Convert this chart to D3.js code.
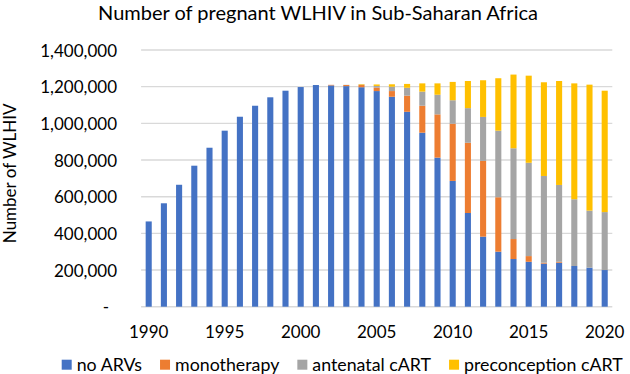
<!DOCTYPE html>
<html>
<head>
<meta charset="utf-8">
<script src="https://cdn.jsdelivr.net/npm/d3@7/dist/d3.min.js"></script>
<style>
  html, body { margin: 0; padding: 0; background: #fff; }
  svg text { font-family: Lato, "Open Sans", sans-serif; fill: #000; }
</style>
</head>
<body>
<svg id="chart" width="630" height="374"></svg>
<script>
const years = d3.range(1990, 2021);
const noARVs = [465000, 564000, 665000, 769000, 867000, 960000, 1036000, 1096000, 1142000, 1178000, 1198000,
  1209000, 1207000, 1203000, 1197000, 1176000, 1145000, 1063000, 949000, 813000, 686000,
  511000, 382000, 300000, 260000, 245000, 235000, 240000, 222000, 213000, 200000];
const monotherapy = [0, 0, 0, 0, 0, 0, 0, 0, 0, 0, 0,
  0, 3000, 6000, 12000, 19000, 31000, 88000, 147000, 236000, 312000,
  383000, 413000, 297000, 109000, 31000, 5000, 5000, 0, 0, 0];
const antenatal = [0, 0, 0, 0, 0, 0, 0, 0, 0, 0, 0,
  0, 0, 1000, 2000, 9000, 24000, 43000, 77000, 107000, 128000,
  189000, 240000, 363000, 495000, 509000, 473000, 419000, 364000, 311000, 316000];
const preconception = [0, 0, 0, 0, 0, 0, 0, 0, 0, 0, 0,
  0, 0, 0, 3000, 8000, 13000, 21000, 45000, 62000, 100000,
  148000, 200000, 286000, 402000, 475000, 511000, 567000, 632000, 687000, 662000];
const seriesNames = ["no ARVs", "monotherapy", "antenatal cART", "preconception cART"];
const seriesColors = ["#4472C4", "#ED7D31", "#A5A5A5", "#FFC000"];
const yTicks = [0, 200000, 400000, 600000, 800000, 1000000, 1200000, 1400000];
const xTickYears = [1990, 1995, 2000, 2005, 2010, 2015, 2020];
const titleText = "Number of pregnant WLHIV in Sub-Saharan Africa";
const yTitle = "Number of WLHIV";

const svg = d3.select("#chart");
const plotLeft = 141.1, plotRight = 612.3, plotTop = 50, plotBottom = 306.7;

const table = years.map((yr, i) => ({
  year: yr, "no ARVs": noARVs[i], "monotherapy": monotherapy[i],
  "antenatal cART": antenatal[i], "preconception cART": preconception[i]
}));
const stacked = d3.stack().keys(seriesNames)(table);

const x = d3.scaleBand().domain(years).range([plotLeft, plotRight]).paddingInner(0.6).paddingOuter(0.3);
const y = d3.scaleLinear().domain([0, 1400000]).range([plotBottom, plotTop]);
const color = d3.scaleOrdinal().domain(seriesNames).range(seriesColors);

// gridlines
svg.append("g").selectAll("line").data(yTicks).join("line")
  .attr("x1", plotLeft).attr("x2", plotRight)
  .attr("y1", d => y(d)).attr("y2", d => y(d))
  .attr("stroke", "#d9d9d9").attr("stroke-width", 1.4);

// y axis labels
const fmt = d3.format(",");
const yAxis = d3.axisLeft(y).tickValues(yTicks).tickSize(0).tickPadding(0)
  .tickFormat(d => d === 0 ? "-" : fmt(d));
const yg = svg.append("g").attr("transform", `translate(117,0)`).call(yAxis);
yg.select(".domain").remove();
yg.selectAll("text").attr("font-size", 17).attr("font-family", "Lato").attr("fill", "#000").attr("dy", "0.36em");
yg.selectAll("text").filter(d => d === 0).attr("dx", -8);

// bars
svg.append("g").selectAll("g").data(stacked).join("g")
  .attr("fill", d => color(d.key))
  .selectAll("rect").data(d => d).join("rect")
  .attr("x", d => x(d.data.year))
  .attr("width", x.bandwidth())
  .attr("y", d => y(d[1]))
  .attr("height", d => Math.max(0, y(d[0]) - y(d[1])));

// x axis
const xAxis = d3.axisBottom(x).tickValues(xTickYears).tickSize(0).tickPadding(0);
const xg = svg.append("g").attr("transform", `translate(0,338)`).call(xAxis);
xg.select(".domain").remove();
xg.selectAll("text").attr("font-size", 17).attr("font-family", "Lato").attr("fill", "#000").attr("dy", 0);

// title
svg.append("text").attr("x", 318).attr("y", 20.3).attr("text-anchor", "middle")
  .attr("font-size", 20).text(titleText);

// y title
svg.append("text").attr("transform", "translate(16,173.3) rotate(-90)")
  .attr("text-anchor", "middle").attr("font-size", 17).text(yTitle);

// legend
const lg = svg.append("g");
let lx = 61.7;
seriesNames.forEach((name, i) => {
  lg.append("rect").attr("x", lx).attr("y", 359.7).attr("width", 10).attr("height", 10).attr("fill", seriesColors[i]);
  const t = lg.append("text").attr("x", lx + 15).attr("y", 371).attr("font-size", 17.8).text(name);
  lx += 15 + t.node().getComputedTextLength() + 18;
});
</script>
</body>
</html>
